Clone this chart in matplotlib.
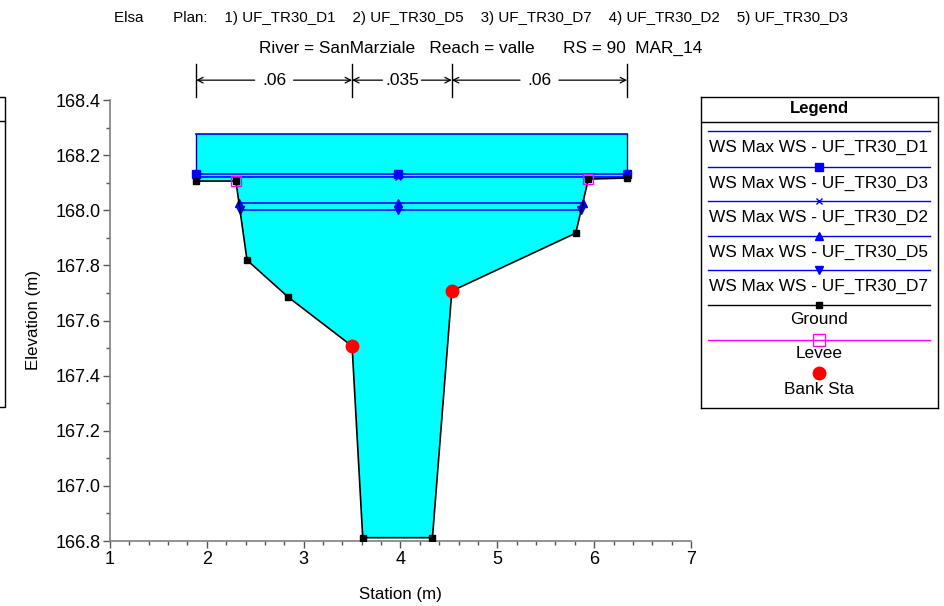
import numpy as np
import matplotlib.pyplot as plt
from matplotlib.lines import Line2D

# ground profile (station, elevation)
ground_x = [1.89, 2.30, 2.415, 2.84, 3.50, 3.61, 4.33, 4.53, 5.81, 5.94, 6.34]
ground_y = [168.106, 168.106, 167.819, 167.685, 167.507, 166.812, 166.812, 167.707, 167.917, 168.113, 168.117]

levee_x = [2.30, 5.94]
levee_y = [168.106, 168.113]

bank_x = [3.50, 4.53]
bank_y = [167.507, 167.707]

# max water surface per plan
ws_names = ['UF_TR30_D1', 'UF_TR30_D3', 'UF_TR30_D2', 'UF_TR30_D5', 'UF_TR30_D7']
ws_levels = [168.277, 168.13, 168.12, 168.026, 168.001]
ws_markers = [None, 's', 'x', '^', 'v']
ws_mid_station = 3.97

# manning n
n_stations = [1.89, 3.50, 4.53, 6.34]
n_values = ['.06', '.035', '.06']

plt.rcParams['font.family'] = ['Liberation Sans', 'DejaVu Sans']


def wet_extent(level):
    gx = np.array(ground_x)
    gy = np.array(ground_y)
    low = int(np.argmin(gy))
    left = gx[0]
    for i in range(low, 0, -1):
        if gy[i - 1] >= level:
            left = np.interp(level, [gy[i], gy[i - 1]], [gx[i], gx[i - 1]])
            break
    right = gx[-1]
    for i in range(low, len(gx) - 1):
        if gy[i + 1] >= level:
            right = np.interp(level, [gy[i], gy[i + 1]], [gx[i], gx[i + 1]])
            break
    return left, right


fig = plt.figure(figsize=(9.45, 6.06), dpi=100)
ax = fig.add_axes([110 / 945, 1 - 541 / 606, 581 / 945, 441 / 606])

# water fill up to the highest surface
top = ws_levels[0]
ax.fill(ground_x + [ground_x[-1], ground_x[0]], ground_y + [top, top],
        color='#00FFFF', lw=0, zorder=1)
ax.plot([ground_x[0], ground_x[0]], [ground_y[0], top], color='#00008B', lw=1, zorder=2)
ax.plot([ground_x[-1], ground_x[-1]], [ground_y[-1], top], color='#00008B', lw=1, zorder=2)

for level, mk in zip(ws_levels, ws_markers):
    x0, x1 = wet_extent(level)
    ax.plot([x0, x1], [level, level], color='#0000FF', lw=1.2, zorder=3)
    if mk is not None:
        ax.plot([x0, ws_mid_station, x1], [level] * 3, ls='none', marker=mk,
                color='#0000FF', ms=6 if mk != 'x' else 5, mew=1, zorder=4)

ax.plot(ground_x, ground_y, color='black', lw=1.2, marker='s', ms=5, zorder=5)
ax.plot(levee_x, levee_y, ls='none', marker='s', ms=7, mfc='none',
        mec='#FF00FF', mew=1, zorder=6)
ax.plot(bank_x, bank_y, ls='none', marker='o', ms=9, color='red', zorder=7)

ax.set_xlim(1, 7)
ax.set_ylim(166.8, 168.4)
ax.set_xticks(np.arange(1, 7.01, 1))
ax.set_xticks(np.arange(1, 7.01, 0.2), minor=True)
ax.set_yticks(np.arange(166.8, 168.41, 0.2))
ax.set_yticks(np.arange(166.8, 168.41, 0.1), minor=True)
ax.yaxis.set_major_formatter(plt.FormatStrFormatter('%.1f'))
ax.xaxis.set_major_formatter(plt.FormatStrFormatter('%d'))
for s in ['top', 'right']:
    ax.spines[s].set_visible(False)
for s in ['left', 'bottom']:
    ax.spines[s].set_color('#808080')
    ax.spines[s].set_linewidth(1.2)
ax.tick_params(which='major', direction='out', length=5, width=1, color='#555555',
               labelsize=13, pad=2)
ax.tick_params(which='minor', direction='out', length=3, width=1, color='#555555')
ax.set_xlabel('Station (m)', fontsize=12.2, labelpad=14)
ax.set_ylabel('Elevation (m)', fontsize=12.2, labelpad=10)

# titles
fig.text(481 / 945, 1 - 18 / 606,
         'Elsa       Plan:    1) UF_TR30_D1    2) UF_TR30_D5    3) UF_TR30_D7    '
         '4) UF_TR30_D2    5) UF_TR30_D3',
         ha='center', va='center', fontsize=10.9)
fig.text(481 / 945, 1 - 48 / 606,
         'River = SanMarziale   Reach = valle      RS = 90  MAR_14',
         ha='center', va='center', fontsize=12.4)

# manning n markers
for xs in n_stations:
    ax.plot([xs, xs], [1.007, 1.082], color='black', lw=1,
            transform=ax.get_xaxis_transform(), clip_on=False)
for (xa, xb), label in zip(zip(n_stations[:-1], n_stations[1:]), n_values):
    xm = (xa + xb) / 2
    ax.annotate('', xy=(xa, 1.045), xytext=(xm, 1.045), xycoords=ax.get_xaxis_transform(),
                arrowprops=dict(arrowstyle='->', lw=0.9, shrinkA=14, shrinkB=0))
    ax.annotate('', xy=(xb, 1.045), xytext=(xm, 1.045), xycoords=ax.get_xaxis_transform(),
                arrowprops=dict(arrowstyle='->', lw=0.9, shrinkA=14, shrinkB=0))
    ax.text(xm, 1.045, label, transform=ax.get_xaxis_transform(), ha='center',
            va='center', fontsize=12.5,
            bbox=dict(fc='white', ec='none', pad=1))

# legend panel (pixel coordinates)
lg = fig.add_axes([701 / 945, 1 - 408 / 606, 237 / 945, 311 / 606])
lg.set_xlim(701, 938)
lg.set_ylim(408, 97)
lg.set_xticks([])
lg.set_yticks([])
for s in lg.spines.values():
    s.set_linewidth(1)
lg.text(819, 108, 'Legend', ha='center', va='center', fontsize=12, fontweight='bold')
lg.plot([701, 938], [122, 122], color='black', lw=1)

entries = [('WS Max WS - ' + n, '#0000FF', m) for n, m in zip(ws_names, ws_markers)]
line_y = [131, 167, 201, 236, 270]
for (label, col, mk), ly in zip(entries, line_y):
    lg.plot([708, 930], [ly, ly], color=col, lw=1)
    if mk is not None:
        lg.plot([819], [ly], marker=mk, color=col, ms=6 if mk != 'x' else 5, mew=1)
    lg.text(819, ly + 16, label, ha='center', va='center', fontsize=12.4)
lg.plot([708, 930], [305, 305], color='black', lw=1)
lg.plot([819], [305], marker='s', color='black', ms=5)
lg.text(819, 320, 'Ground', ha='center', va='center', fontsize=12.4)
lg.plot([708, 930], [340, 340], color='#FF00FF', lw=1)
lg.plot([819], [340], marker='s', ms=8, mfc='none', mec='#FF00FF', mew=1)
lg.text(819, 354, 'Levee', ha='center', va='center', fontsize=12.4)
lg.plot([819], [373], marker='o', ms=9, color='red')
lg.text(819, 389, 'Bank Sta', ha='center', va='center', fontsize=12.4)

# clipped panel on the far left edge
fig.add_artist(plt.Rectangle((-0.05, 1 - 407 / 606), 0.05 + 5 / 945, 310 / 606,
                             transform=fig.transFigure, fill=False, lw=1, ec='black'))
fig.add_artist(Line2D([0, 5 / 945], [1 - 121 / 606, 1 - 121 / 606],
                      transform=fig.transFigure, color='black', lw=1))

fig.savefig('out.png', dpi=100)
